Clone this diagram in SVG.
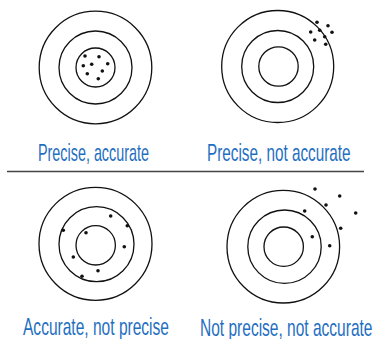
<svg xmlns="http://www.w3.org/2000/svg" width="376" height="339" viewBox="0 0 376 339">
<style>
.ring{fill:none;stroke:#111;stroke-width:1.3}
.dot{fill:#111}
.lbl{font-family:"Liberation Sans",Arial,sans-serif;font-size:24px;fill:#1f6fc1}
.sep{stroke:#444;stroke-width:1.5}
</style>
<rect width="376" height="339" fill="#fff"/>
<g id="target-precise-accurate">
<circle class="ring" cx="95.5" cy="67.5" r="56.3"/>
<circle class="ring" cx="95.5" cy="67.5" r="36.5"/>
<circle class="ring" cx="95.5" cy="67.5" r="19.5"/>
<g class="dot">
<circle cx="85" cy="56" r="1.8"/><circle cx="99" cy="56.7" r="1.8"/><circle cx="91.7" cy="64.3" r="1.8"/><circle cx="83.3" cy="65.7" r="1.8"/>
<circle cx="107.7" cy="63.7" r="1.8"/><circle cx="102.3" cy="71" r="1.8"/><circle cx="87.3" cy="73.7" r="1.8"/><circle cx="98.3" cy="78.7" r="1.8"/>
</g>
<text class="lbl" transform="translate(38,160.5) scale(0.64,1)" textLength="173.4" lengthAdjust="spacingAndGlyphs">Precise, accurate</text>
</g>
<g id="target-precise-not-accurate">
<circle class="ring" cx="277.7" cy="66.5" r="56"/>
<circle class="ring" cx="277.7" cy="66.5" r="36"/>
<circle class="ring" cx="278.5" cy="66.5" r="19.7"/>
<g class="dot">
<circle cx="317" cy="22.3" r="1.8"/><circle cx="328" cy="25.7" r="1.8"/><circle cx="310.7" cy="32" r="1.8"/><circle cx="319.7" cy="30.3" r="1.8"/>
<circle cx="332" cy="32.3" r="1.8"/><circle cx="324.7" cy="36.7" r="1.8"/><circle cx="314.7" cy="40" r="1.8"/><circle cx="325.7" cy="44.3" r="1.8"/>
</g>
<text class="lbl" transform="translate(207,160.5) scale(0.64,1)" textLength="224.2" lengthAdjust="spacingAndGlyphs">Precise, not accurate</text>
</g>
<g id="connectors">
<line class="sep" x1="7" y1="171.5" x2="364" y2="171.5"/>
</g>
<g id="target-accurate-not-precise">
<circle class="ring" cx="95.5" cy="243.8" r="56.5"/>
<circle class="ring" cx="96.5" cy="244.2" r="37.5"/>
<circle class="ring" cx="95.7" cy="245.3" r="19.7"/>
<g class="dot">
<circle cx="110.7" cy="216" r="1.8"/><circle cx="127.3" cy="225.7" r="1.8"/><circle cx="63.3" cy="230.3" r="1.8"/><circle cx="86" cy="232.7" r="1.8"/>
<circle cx="124.3" cy="246.7" r="1.8"/><circle cx="73.3" cy="257" r="1.8"/><circle cx="98" cy="270.7" r="1.8"/><circle cx="82" cy="276.3" r="1.8"/>
</g>
<text class="lbl" transform="translate(23,335) scale(0.64,1)" textLength="228.1" lengthAdjust="spacingAndGlyphs">Accurate, not precise</text>
</g>
<g id="target-not-precise-not-accurate">
<circle class="ring" cx="283.3" cy="246.7" r="56.3"/>
<circle class="ring" cx="284.5" cy="246.7" r="36.7"/>
<circle class="ring" cx="283.7" cy="246.7" r="19.7"/>
<g class="dot">
<circle cx="315" cy="189" r="1.8"/><circle cx="339.7" cy="196" r="1.8"/><circle cx="326" cy="205" r="1.8"/><circle cx="304.7" cy="211" r="1.8"/>
<circle cx="355.7" cy="213" r="1.8"/><circle cx="340.7" cy="228.3" r="1.8"/><circle cx="312.3" cy="236.7" r="1.8"/><circle cx="329.7" cy="245.7" r="1.8"/>
</g>
<text class="lbl" transform="translate(200,335.5) scale(0.64,1)" textLength="269.5" lengthAdjust="spacingAndGlyphs">Not precise, not accurate</text>
</g>
</svg>
